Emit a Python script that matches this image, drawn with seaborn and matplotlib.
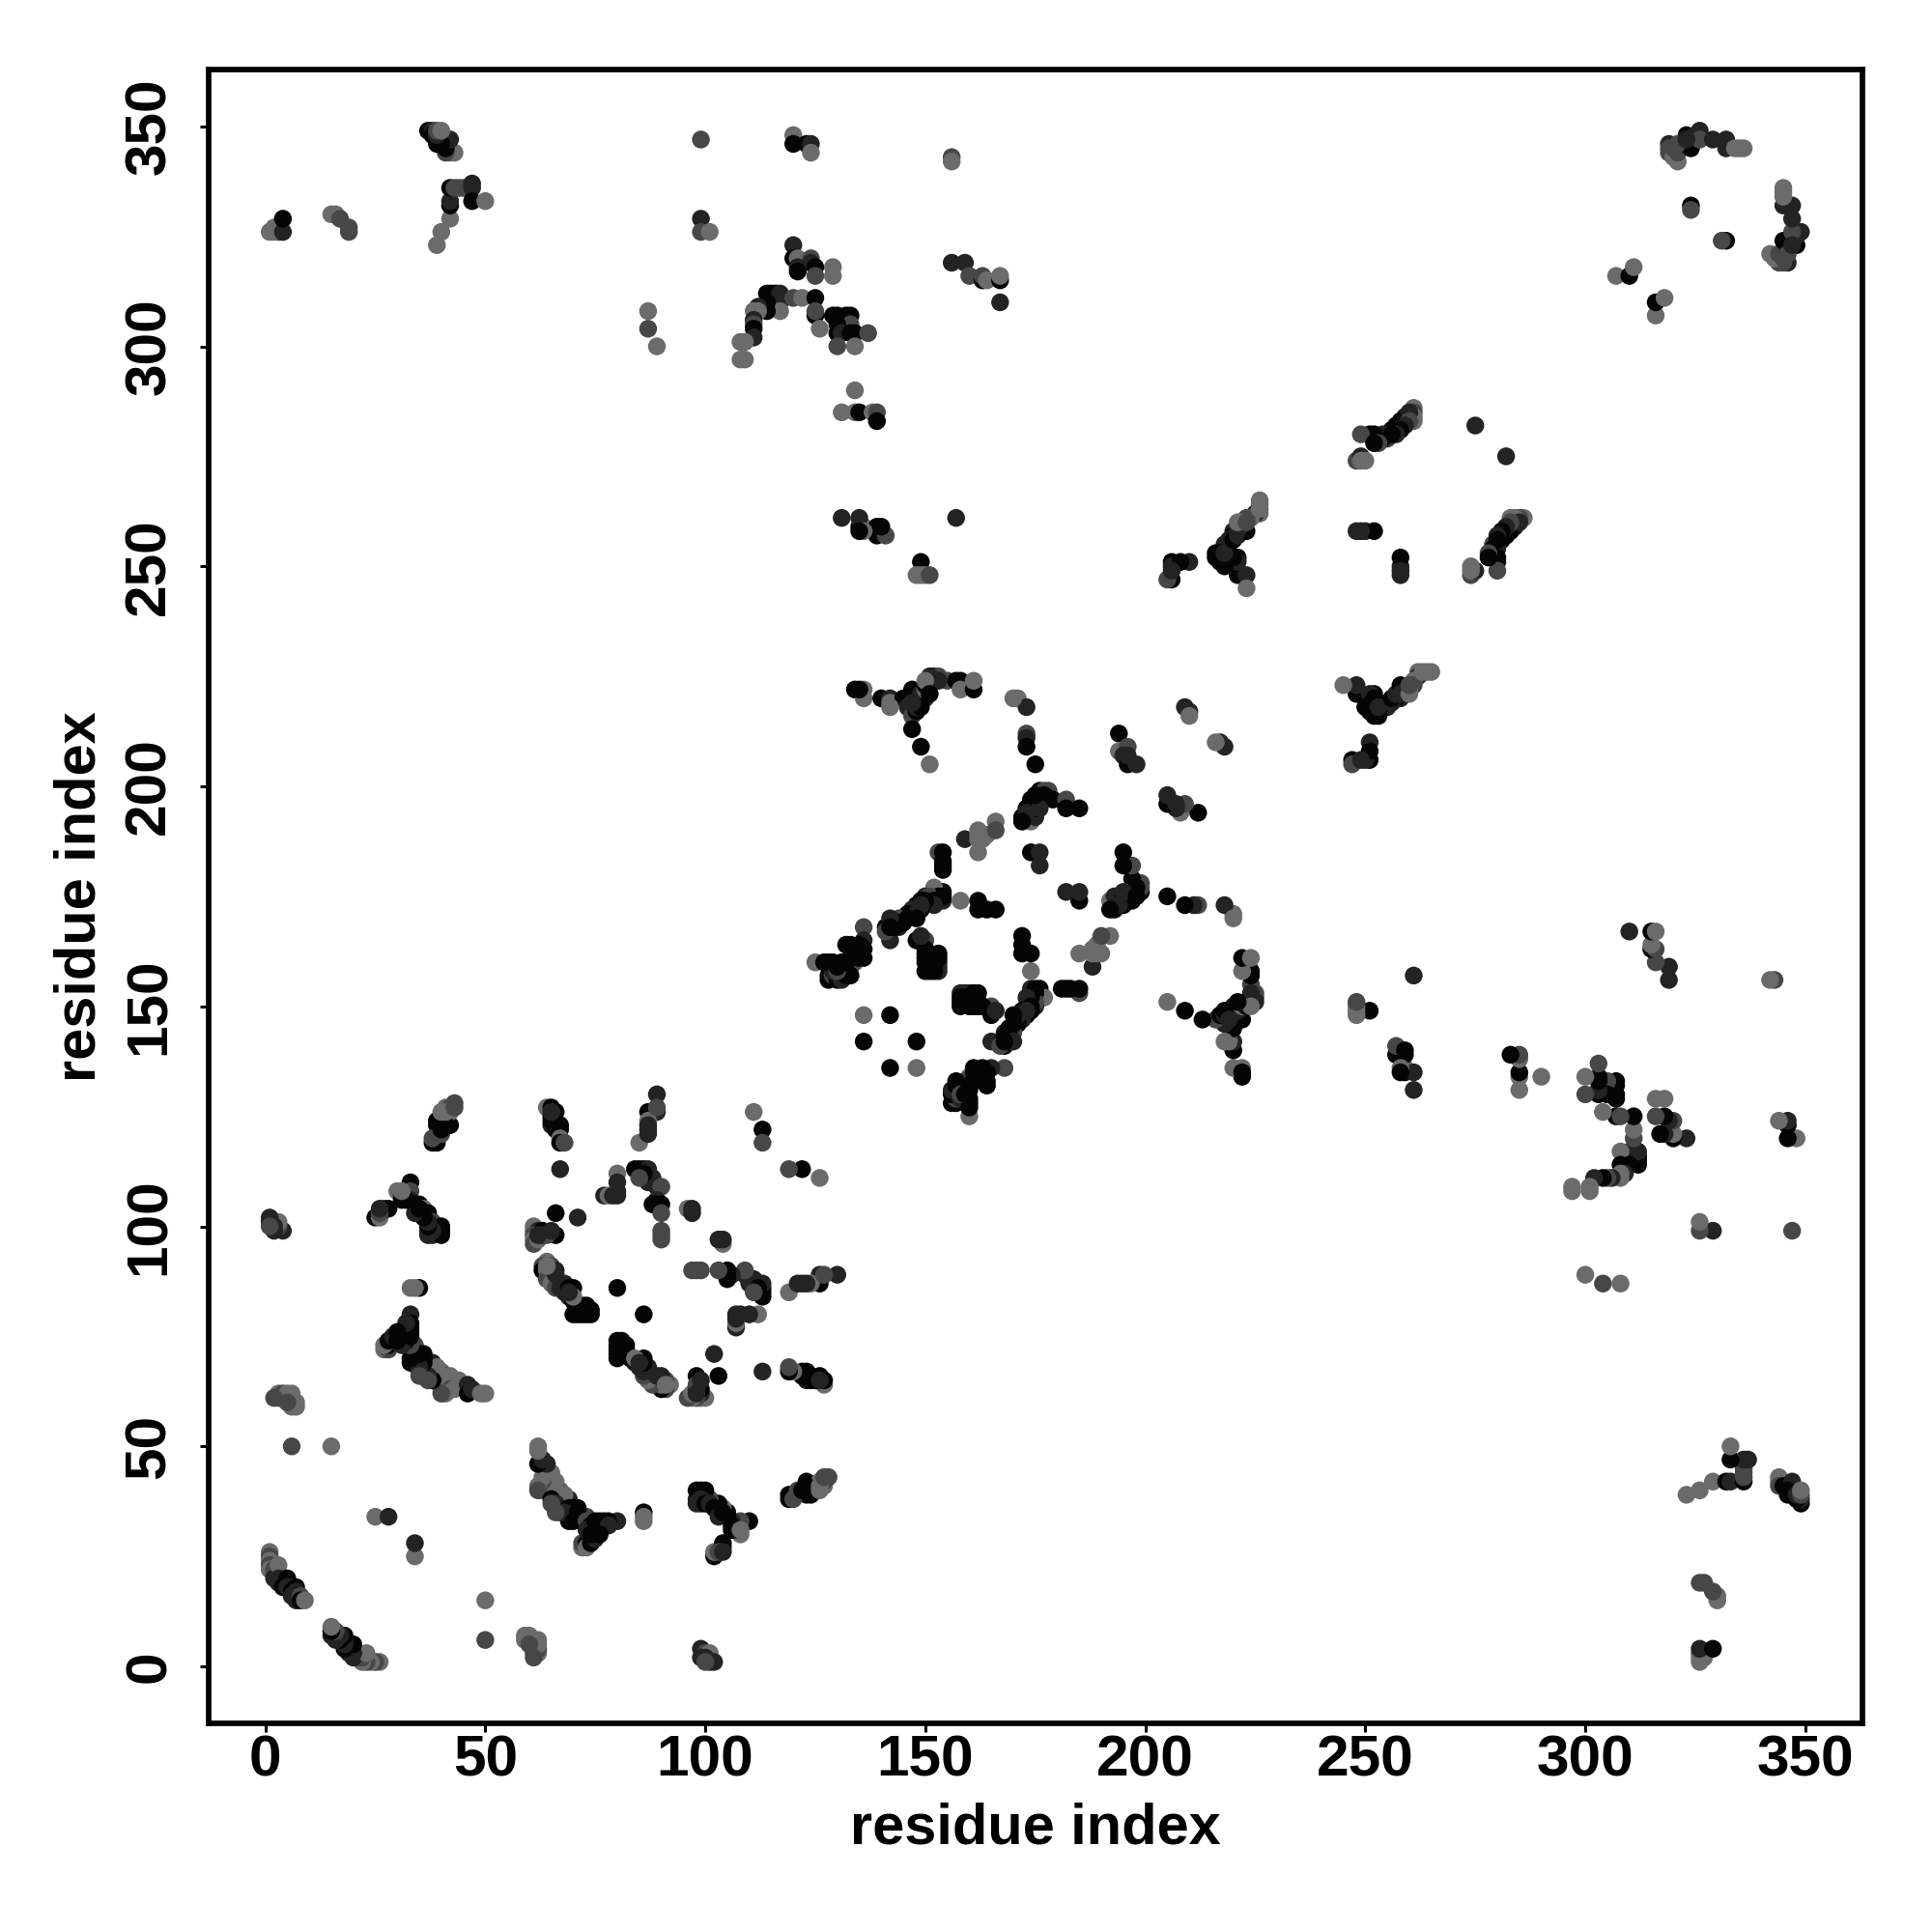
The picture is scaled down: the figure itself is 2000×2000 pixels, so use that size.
import matplotlib
matplotlib.use("Agg")
import matplotlib.pyplot as plt
import pandas as pd
import seaborn as sns

# contacts as (residue i, residue j, shade class 0=darkest .. 3=lightest)
band_a = [(1,26,3),(1,25,2),(1,24,3),(1,23,2),(1,22,3),(2,22,2),(2,21,2),(2,20,1),(3,23,3),(3,20,1),(3,19,1),(4,19,1),(4,18,0),(5,20,0),(5,19,0),(5,18,1),(6,18,1),(6,17,0),(7,18,0),(7,17,1),(7,16,0),(6,16,1),(7,15,1),(8,16,2),(8,15,0),(9,15,3),
          (25,34,3),(28,34,1),(6,50,2),(15,50,3),(3,61,2),(4,61,2),(5,61,2),(3,62,3),(4,62,2),(5,62,3),(6,62,3),(7,60,3),(6,60,3),(6,59,3),(7,59,3),(5,60,2),(2,61,2),
          (4,99,1),(3,100,2),(3,101,3),(2,100,1),(1,101,1),(1,102,1),(2,99,1),(1,100,2)]
band_b = [(25,102,0),(26,102,3),(27,104,1),(28,104,0),(30,108,3),(31,107,2),(31,106,0),(33,110,0),(33,108,2),(33,106,1),(34,105,0),(35,105,0),(36,104,3),(36,103,1),(37,103,0),(37,102,0),(38,101,2),(37,99,1),(38,98,1),(39,99,1),(40,99,0),(40,98,0),(33,86,3),(35,86,0),(34,86,3),
          (27,72,3),(28,72,2),(28,73,0),(29,74,1),(30,75,0),(31,76,1),(32,77,1),(33,80,1),(33,78,0),(33,76,0),(33,74,1),(34,73,2),(34,71,0),(35,70,0),(36,71,0),(33,69,0),(35,67,1),(36,66,0),(37,68,0),(38,69,1),(38,66,0),(39,66,1),(39,68,3),(40,67,3),(41,66,2),(42,66,3),(43,65,3),(44,65,3),(44,64,3),(40,63,3),(41,63,3),(42,63,2),(43,63,3),(46,64,1),(46,62,0),(47,63,1),(49,62,3),(50,62,3),
          (38,119,0),(39,119,0),(39,120,0),(40,121,2),(39,123,0),(40,123,0),(41,124,0),(42,123,0),(42,126,3),(41,127,3),(42,127,2),(43,128,2)]
band_c = [(64,127,3),(65,127,0),(65,125,0),(66,126,0),(65,123,1),(66,122,0),(67,123,0),(67,122,0),(67,120,3),(67,119,0),(68,119,2),(67,113,1),(66,103,0),(71,102,1),(66,98,0),(61,100,3),(61,99,3),(62,99,1),(61,98,2),(61,97,3),(61,96,2),(62,97,3),(63,99,0),(63,98,1),(64,98,2),
          (64,92,3),(63,91,2),(63,90,0),(64,90,3),(65,91,2),(65,90,1),(66,90,1),(65,89,0),(64,88,2),(66,88,2),(65,87,3),(67,87,1),(68,87,1),(66,86,2),(67,86,1),(68,85,1),(69,86,0),(70,86,0),(69,84,1),(70,83,0),(71,82,0),(70,80,0),(72,82,0),(71,81,0),(73,82,0),(73,80,0),(72,80,0),(71,80,0),(74,81,0),(74,80,0),
          (62,50,3),(62,49,3),(62,46,0),(64,46,1),(65,44,2),(65,43,3),(66,42,3),(62,41,3),(62,40,2),(63,41,2),(66,41,3),(67,39,3),(68,39,3),(69,38,1),(65,38,0),(66,37,1),(65,37,2),(66,36,0),(70,36,0),(69,36,0),(68,35,1),(66,35,2),(71,35,0),(70,33,0),(72,33,0),(73,33,2),(74,32,0),(73,31,1),(75,33,0),(76,31,0),(77,33,0),(80,33,1),(78,32,1),(72,27,2),(73,27,3),(72,28,2),(74,28,0),(75,29,1),(74,30,0),(76,30,0),(86,33,3),(86,35,0)]
band_d = [(89,130,1),(87,126,0),(88,126,0),(89,126,1),(87,124,3),(87,123,1),(87,122,1),(85,119,3),
          (80,112,3),(80,110,1),(80,108,1),(77,107,1),(78,107,3),(79,107,1),(80,107,1),(84,113,0),(85,113,0),(86,113,0),(87,113,1),(85,112,0),(86,111,1),(87,111,0),(87,110,1),(88,111,1),(88,110,1),(89,109,1),(90,109,2),(89,106,1),(88,105,0),(89,105,0),(90,105,0),(90,103,2),(90,98,2),(90,97,2),(96,104,3),(97,104,1),(97,103,1),(103,97,1),(104,96,3),(97,90,2),(99,90,2),
          (103,90,3),(105,90,0),(105,89,0),(105,88,0),(109,90,1),(109,89,0),(110,88,1),(111,87,0),(112,87,1),(113,87,0),(112,86,0),(113,86,0),(113,85,0),(111,85,2),(119,85,2),(121,87,1),(123,87,0),(126,87,0),(126,89,0),(127,89,2),(130,89,1),(111,126,3),(113,122,0),(113,119,2),(119,113,2),(122,113,0),(126,111,3),(80,86,0),
          (107,80,1),(107,79,1),(107,78,0),(108,80,1),(110,80,1),(112,80,2),(102,71,1),(103,66,0),(98,66,0),(99,65,1),(98,64,0),(99,63,1),(98,62,1),(97,62,2),(96,61,3),(97,61,2),(98,61,1),(99,62,1),(100,61,3)]
band_e = [(80,73,0),(81,73,0),(82,73,0),(80,70,0),(81,71,0),(82,71,0),(83,70,0),(84,70,3),(85,69,1),(86,70,0),(86,69,0),(87,68,1),(87,67,2),(87,65,3),(88,66,2),(89,66,1),(89,65,1),(90,64,2),(90,63,2),(91,64,3),(92,64,3),
          (113,67,1),(119,68,2),(119,67,2),(120,67,3),(122,67,0),(123,67,0),(124,66,0),(124,65,0),(125,65,0),(126,65,1),(127,64,2),(127,65,0),
          (98,40,0),(100,40,0),(98,37,1),(99,38,1),(100,37,0),(101,37,1),(102,36,0),(103,36,0),(103,34,1),(104,35,0),(105,34,1),(106,33,0),(106,32,0),(107,31,1),(108,31,3),(108,33,1),(110,33,0),(104,28,1),(103,26,2),(102,26,3),(102,25,0),(104,26,1),(104,27,0),
          (119,39,0),(119,38,0),(120,38,2),(122,40,0),(123,41,0),(123,39,0),(124,39,0),(126,40,3),(126,41,3),(127,43,2),(128,43,3)]
band_f = [(134,222,0),(136,222,3),(136,220,3),(140,220,0),(142,220,1),(142,219,3),(145,220,0),(146,219,0),(146,218,1),(147,217,1),(147,216,2),(147,213,0),(148,217,0),(148,220,0),(147,222,0),(149,209,0),(151,205,3),(148,218,1),(149,221,1),(150,220,1),(150,222,3),(150,223,0),(151,224,2),(152,225,1),(153,225,2),(151,223,1),(152,224,3),(155,224,2),(157,224,0),(158,224,0),(158,222,3),(161,222,0),(161,224,3),
          (171,220,3),(173,218,1),(173,212,2),(173,211,1),(173,209,0),(175,205,0),(194,212,0),(194,208,3),(196,209,2),(195,207,1),(196,205,0),(198,205,1),(209,218,1),(210,217,1),(210,216,3),(216,210,3),(217,210,1),(218,209,1),
          (205,198,1),(205,196,0),(209,196,2),(208,194,3),(212,194,0),(207,196,1),
          (172,193,0),(173,193,1),(174,192,3),(175,193,1),(173,195,0),(174,194,1),(175,195,0),(174,197,0),(175,197,1),(176,198,1),(176,199,0),(177,199,2),(178,199,2),(179,197,0),(182,197,2),(182,195,0),(185,195,0),
          (159,188,1),(162,190,3),(162,188,3),(163,188,3),(162,185,3),(164,189,3),(166,192,3),(166,190,2),(153,185,2),(154,185,0),(154,183,0),(154,181,0),(174,185,0),(176,185,1),(176,182,1),(195,185,0),(195,182,0),(197,182,2)]
band_g = [(199,178,2),(198,177,0),(199,176,1),(197,176,0),(196,175,1),(196,174,0),(195,175,0),(195,176,1),(194,174,0),(194,173,1),(193,173,0),(192,174,3),(192,172,0),(193,172,1),(198,175,0),(205,175,0),(209,173,1),(212,173,2),(218,173,1),(220,170,3),(182,176,1),(185,176,1),(185,174,0),
          (154,176,0),(152,177,3),(154,174,1),(153,175,0),(158,174,3),(162,174,0),(162,172,0),(164,172,0),(166,172,0),(150,175,1),(151,175,2),(149,174,0),(150,173,0),(148,173,0),(147,172,1),(146,171,0),(145,170,0),(144,170,2),(143,169,0),(142,169,1),(142,167,1),(142,165,1),(141,168,0),(141,167,2),(144,168,1),(136,168,2),
          (125,160,3),(128,160,0),(129,160,0),(132,164,0),(133,164,0),(135,163,0),(136,165,1),(136,163,0),(136,161,0),(134,161,1),(134,160,3),(133,159,2),(132,158,1),(131,157,0),(128,156,0),(128,157,0),(129,157,2),(130,156,0),(131,156,1),(133,157,0),(129,158,1),
          (148,165,0),(150,165,2),(150,163,0),(150,161,0),(153,162,0),(153,160,1),(153,159,1),(153,158,1),(150,158,0),(151,158,0),(152,159,0),(151,161,0),(152,158,0),(172,166,0),(172,164,0),(172,162,0),(174,162,0),(174,158,2),(185,162,3),(188,162,3),(189,162,3),(188,159,1),(190,166,2),(192,166,3),(182,154,0),(185,154,0),(185,153,2)]
band_h = [(222,161,0),(224,161,3),(222,158,3),(224,157,0),(224,155,1),(224,153,1),(225,152,2),(225,151,1),(224,150,3),(224,151,0),(222,150,0),(221,151,0),(221,149,1),(220,148,1),(218,149,0),(218,148,0),(217,148,0),(219,147,1),(216,147,3),(217,147,0),(213,147,0),(209,149,0),(205,151,3),(220,142,0),(218,142,3),(220,140,0),(220,136,3),(222,136,3),(222,135,0),
          (177,152,3),(175,154,0),(174,154,1),(174,152,0),(173,152,1),(175,150,1),(174,150,0),(172,149,0),(173,149,1),(172,147,2),(171,148,1),(170,148,0),(171,146,1),(170,146,0),(169,145,0),(170,144,1),(169,144,0),(169,143,2),(168,143,0),(170,142,1),(168,142,0),(165,142,1),
          (158,153,1),(158,151,0),(158,150,0),(160,153,1),(161,151,2),(161,153,0),(162,153,0),(162,151,0),(162,150,0),(160,150,0),(165,150,2),(165,148,0),(166,149,1),(136,148,3),(142,148,0),(136,142,0),
          (156,128,0),(157,128,2),(160,125,3),(160,128,0),(160,127,0),(157,131,0),(157,132,0),(158,132,3),(158,130,2),(159,130,0),(160,131,0),(160,132,0),(161,133,0),(161,135,0),(161,136,1),(163,136,0),(164,135,0),(165,136,1),(168,136,2),(164,133,0),(164,132,0)]
band_i = [(261,286,3),(261,285,2),(260,284,2),(261,283,3),(259,284,1),(258,283,0),(258,282,1),(257,282,0),(257,281,1),(256,281,0),(255,280,0),(255,279,2),(254,280,1),(254,279,0),(253,279,2),(252,280,0),(252,279,0),(251,280,0),(249,280,2),(248,274,2),(249,275,1),(249,274,3),(275,282,1),
          (226,265,3),(226,264,3),(226,262,3),(225,262,1),(224,261,3),(223,261,2),(222,260,3),(222,259,1),(221,259,0),(220,258,1),(220,257,0),(219,256,1),(219,255,0),(218,255,1),(218,254,1),(217,253,0),(216,253,0),(216,252,0),(217,251,0),(218,251,0),(219,252,3),(221,252,0),(220,250,1),(221,248,0),(223,248,1),(223,245,3),(210,251,1),(206,251,0),(206,250,1),(206,247,0),(205,247,2),
          (248,258,1),(250,258,1),(252,258,0),(258,252,0),(258,249,1),(258,248,0),
          (286,261,3),(284,261,3),(285,260,1),(283,260,2),(282,259,1),(282,258,0),(281,258,0),(281,257,1),(280,257,1),(280,256,0),(279,255,0),(279,254,2),(279,253,0),(278,253,2),(279,252,1),(280,252,0),(280,251,0),(278,252,0),(280,249,2),(274,250,3),(275,249,1),
          (245,223,3),(248,223,1),(248,221,0),(251,221,1),(252,220,0),(250,218,0),(251,217,1),(251,218,2),(252,216,0),(253,216,1),(253,219,0),(253,218,1),(254,218,1),(255,219,1),(256,220,0),(257,221,1),(258,223,0),(258,221,1),(259,222,0),(260,221,3),(260,223,2),(261,224,3),(262,225,3),(263,226,3),(265,226,3),
          (251,210,1),(251,208,0),(251,206,1),(247,206,0),(247,205,2),(249,206,1)]
band_j = [(99,347,2),(120,348,3),(120,346,0),(123,346,0),(124,346,1),(124,344,3),(156,343,2),(156,342,3),(99,329,1),(99,326,2),(101,326,3),
          (120,323,1),(120,320,0),(121,320,3),(124,320,2),(124,319,1),(125,318,0),(121,318,1),(121,317,0),(125,316,2),(129,318,3),(129,316,3),
          (114,312,0),(115,312,0),(116,312,0),(117,312,1),(117,310,1),(117,308,3),(114,310,0),(114,308,0),(112,309,1),(111,308,3),(112,308,3),(111,306,1),(111,305,2),(111,304,0),(111,302,1),(108,301,3),(109,301,3),(108,297,3),(109,297,3),(120,311,2),(122,311,3),(125,311,0),(125,307,0),(125,308,2),(126,304,3),
          (129,307,0),(130,307,0),(132,307,0),(133,307,0),(133,305,2),(130,305,0),(130,303,0),(131,303,1),(133,303,0),(134,303,0),(137,303,2),(130,300,2),(134,300,3),(87,308,3),(87,304,2),(89,300,3),
          (156,319,1),(159,319,1),(160,316,2),(163,315,0),(163,316,2),(164,315,3),(167,315,0),(167,316,3),(167,310,1),
          (134,290,3),(131,285,3),(134,285,3),(135,285,0),(138,285,3),(139,285,2),(139,283,0),
          (131,261,1),(135,259,0),(136,259,3),(135,261,1),(139,259,0),(140,258,0),(139,257,0),(141,257,2),(157,261,1),(149,251,0),(148,248,3),(149,248,3),(150,248,3),(151,248,2)]
band_k = [(1,326,3),(3,326,2),(2,326,3),(2,327,3),(4,326,1),(4,329,0),(15,330,3),(16,330,3),(17,329,2),(19,327,2),(19,326,2),
          (43,344,3),(42,344,3),(41,344,2),(41,345,0),(42,347,1),(40,346,0),(39,346,0),(37,349,0),(38,349,1),(38,348,0),(39,348,1),(39,349,2),(40,349,3),
          (39,323,3),(40,326,3),(42,329,3),(42,332,0),(42,333,1),(42,336,0),(43,336,2),(44,336,2),(45,336,2),(47,337,1),(47,336,1),(47,333,0),(50,333,3),
          (319,346,1),(319,345,2),(319,344,2),(320,343,3),(321,342,3),(321,344,2),(322,346,1),(323,348,0),(324,347,0),(324,345,0),(325,348,1),(326,349,1),(326,347,2),(329,347,1),(332,347,1),(332,345,1),(334,345,3),(336,345,3),
          (345,336,3),(345,335,3),(345,332,0),(347,332,2),(347,329,1),(349,326,1),(347,326,3),(348,323,0),(345,324,1),(346,321,2),(342,321,3),(343,320,3),(345,320,2),(347,323,1),
          (324,332,0),(324,331,2),(331,324,2),(332,324,0),(307,316,3),(310,316,0),(311,318,3),(316,310,0),(318,311,3),(316,307,3)]
band_l = [(248,151,3),(259,140,0),(257,141,1),(257,139,1),(259,139,0),(258,136,3),(258,135,0),(259,136,3),(261,135,1),(261,131,1),(303,137,1),(300,134,3),(300,130,3)]

shade_levels = [0.02, 0.14, 0.28, 0.42]
tick_values = [0, 50, 100, 150, 200, 250, 300, 350]
axis_title = "residue index"

all_bands = [band_a, band_b, band_c, band_d, band_e, band_f, band_g, band_h, band_i, band_j, band_k, band_l]
seen = {}
for band in all_bands:
    for i, j, s in band:
        key = (min(i, j), max(i, j))
        if key not in seen:
            seen[key] = s
rows = []
for (i, j), s in seen.items():
    rows.append((i, j, shade_levels[s]))
    rows.append((j, i, shade_levels[s]))
df = pd.DataFrame(rows, columns=["i", "j", "grey"])

sns.set_theme(style="white")
plt.rcParams["font.family"] = ["Liberation Sans", "DejaVu Sans"]
plt.rcParams["font.weight"] = "bold"

fig = plt.figure(figsize=(20, 20), dpi=100, facecolor="white")
ax = fig.add_axes([216 / 2000, 1 - 1784 / 2000, (1928.3 - 216) / 2000, (1784 - 72) / 2000])
sns.scatterplot(data=df, x="i", y="j", hue="grey", palette="gray", hue_norm=(0, 1),
                s=176, linewidth=0, alpha=1, legend=False, ax=ax)
ax.set_xlim(-12.87, 363.05)
ax.set_ylim(-12.95, 362.9)
ax.set_xticks(tick_values)
ax.set_yticks(tick_values)
for sp in ax.spines.values():
    sp.set_visible(True)
    sp.set_linewidth(4.1)
    sp.set_color("black")
ax.tick_params(axis="both", which="major", length=6.4, width=2.2, color="black", labelsize=43.5,
               bottom=True, left=True, labelcolor="black")
ax.tick_params(axis="x", pad=2)
ax.tick_params(axis="y", pad=17.5)
for lab in ax.get_yticklabels():
    lab.set_rotation(90)
    lab.set_va("center")
    lab.set_fontweight("bold")
for lab in ax.get_xticklabels():
    lab.set_fontweight("bold")
ax.set_xlabel(axis_title, fontsize=42.8, fontweight="bold", labelpad=11, color="black")
ax.set_ylabel(axis_title, fontsize=42.8, fontweight="bold", labelpad=12.5, color="black")
fig.savefig("out.png", dpi=100, facecolor="white")
